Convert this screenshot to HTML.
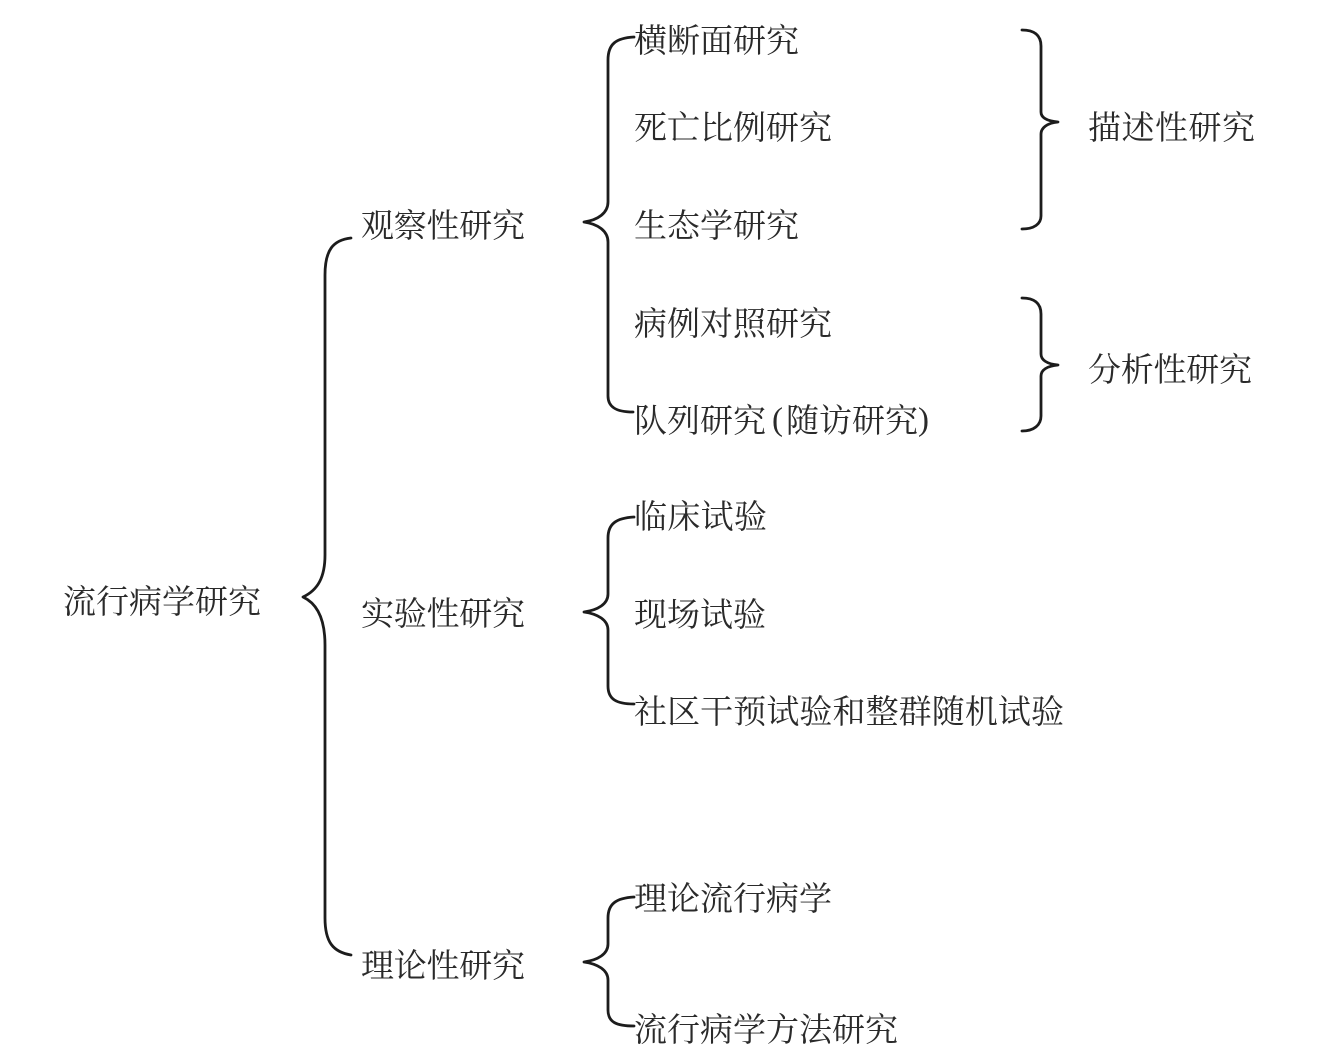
<!DOCTYPE html>
<html lang="zh">
<head>
<meta charset="utf-8">
<style>
html,body{margin:0;padding:0;background:#fff;width:1337px;height:1062px;overflow:hidden}
svg{display:block}
text{font-family:"Liberation Serif","Noto Serif CJK SC",serif;font-size:33px;fill:#2a2a2a}
path{fill:none;stroke:#1c1c1c;stroke-width:2.8;stroke-linejoin:round;stroke-linecap:round}
</style>
</head>
<body>
<svg width="1337" height="1062" viewBox="0 0 1337 1062" xmlns="http://www.w3.org/2000/svg">
<!-- main brace -->
<path d="M351 238 C333 240 325 250 325 275 L325 555 C325 577 318 590 303 597 C318 604 325 620 325 645 L325 918 C325 942 333 952 351 955"/>
<!-- observational -->
<path d="M634 37 C616 38 608 44 608 60 L608 202 C608 213 598 220 584 222 C598 224 608 231 608 242 L608 396 C608 407 616 412 633 412"/>
<!-- experimental -->
<path d="M634 517 C616 518 608 524 608 538 L608 594 C608 604 598 610 584 612 C598 614 608 620 608 630 L608 686 C608 699 616 704 634 704"/>
<!-- theoretical -->
<path d="M634 897 C616 898 608 904 608 918 L608 944 C608 954 598 960 584 962 C598 964 608 970 608 980 L608 1010 C608 1022 616 1026 634 1026"/>
<!-- descriptive -->
<path d="M1022 30 C1034 30 1041 35 1041 46 L1041 112 C1041 118 1047 121 1058 122 C1047 123 1041 128 1041 134 L1041 216 C1041 224 1034 229 1022 229"/>
<!-- analytic -->
<path d="M1022 298 C1034 298 1041 303 1041 314 L1041 354 C1041 360 1047 364 1058 365 C1047 366 1041 370 1041 376 L1041 416 C1041 425 1034 431 1022 431"/>

<text x="63" y="613" textLength="198" lengthAdjust="spacing">流行病学研究</text>
<text x="361" y="237" textLength="164" lengthAdjust="spacing">观察性研究</text>
<text x="361" y="625" textLength="164" lengthAdjust="spacing">实验性研究</text>
<text x="361" y="977" textLength="164" lengthAdjust="spacing">理论性研究</text>

<text x="634" y="52" textLength="165" lengthAdjust="spacing">横断面研究</text>
<text x="634" y="139" textLength="198" lengthAdjust="spacing">死亡比例研究</text>
<text x="634" y="237" textLength="165" lengthAdjust="spacing">生态学研究</text>
<text x="634" y="335" textLength="198" lengthAdjust="spacing">病例对照研究</text>
<text x="634" y="432">队列研究</text>
<text x="772" y="430">(</text>
<text x="786" y="432" textLength="132" lengthAdjust="spacing">随访研究</text>
<text x="918" y="430">)</text>

<text x="634" y="528" textLength="133" lengthAdjust="spacing">临床试验</text>
<text x="634" y="626" textLength="132" lengthAdjust="spacing">现场试验</text>
<text x="634" y="723" textLength="430" lengthAdjust="spacing">社区干预试验和整群随机试验</text>

<text x="634" y="910" textLength="198" lengthAdjust="spacing">理论流行病学</text>
<text x="634" y="1041" textLength="264" lengthAdjust="spacing">流行病学方法研究</text>

<text x="1088" y="139" textLength="167" lengthAdjust="spacing">描述性研究</text>
<text x="1088" y="381" textLength="164" lengthAdjust="spacing">分析性研究</text>
</svg>
</body>
</html>
